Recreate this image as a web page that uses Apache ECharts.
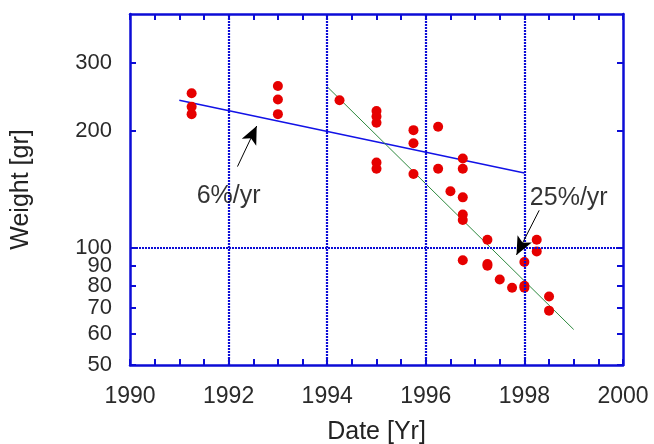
<!DOCTYPE html>
<html>
<head>
<meta charset="utf-8">
<style>
  * { margin: 0; padding: 0; }
  body { background: #ffffff; }
  #chart { width: 654px; height: 444px; }
</style>
</head>
<body>
<div id="chart"></div>
<script src="https://cdn.jsdelivr.net/npm/echarts@6/dist/echarts.min.js"></script>
<script>
// measured weights by date
const years = [
  1991.25, 1991.25, 1991.25,
  1993.0, 1993.0, 1993.0,
  1994.25,
  1995.0, 1995.0, 1995.0, 1995.0, 1995.0,
  1995.75, 1995.75, 1995.75,
  1996.25, 1996.25,
  1996.5,
  1996.75, 1996.75, 1996.75, 1996.75, 1996.75, 1996.75,
  1997.25, 1997.25, 1997.25,
  1997.5,
  1997.75,
  1998.0, 1998.0, 1998.0,
  1998.25, 1998.25,
  1998.5, 1998.5
];
const weights = [
  250, 231, 221,
  261, 241, 221,
  240,
  225, 218, 210, 166, 160,
  201, 186, 155,
  205, 160,
  140,
  170, 160, 135, 122, 118, 93,
  105, 91, 90,
  83,
  79,
  92, 80, 79,
  105, 98,
  75, 69
];

// fitted trends (end points)
const slowFit = [[1991, 240], [1998, 156]];
const fastFit = [[1994, 260], [1999, 61.7]];

// annotations: text position and arrow tail -> head
const notes = [
  { text: '6%/yr', at: [1992.0, 136], tail: [1992.18, 162], head: [1992.57, 206] },
  { text: '25%/yr', at: [1998.9, 134.5], tail: [1998.3, 125], head: [1997.84, 96] }
];

const yTicks = [50, 60, 70, 80, 90, 100, 200, 300];
const xGrid = [1992, 1994, 1996, 1998];
const yGrid = [100];

const BLUE = '#0c0cd6';
const FONT = '"Liberation Sans", Arial, sans-serif';

const chart = echarts.init(document.getElementById('chart'));

const xBase = {
  type: 'value', min: 1990, max: 2000, interval: 0.5,
  axisLine: { show: true, onZero: false, lineStyle: { color: BLUE, width: 2.5 } },
  axisTick: { show: true, inside: true, length: 6, lineStyle: { color: BLUE, width: 2 } },
  splitLine: { show: false }
};
const yBase = {
  type: 'log', logBase: 10, min: 50, max: 400,
  axisLine: { show: true, onZero: false, lineStyle: { color: BLUE, width: 2.5 } },
  axisTick: { show: true, inside: true, length: 6, customValues: yTicks, lineStyle: { color: BLUE, width: 2 } },
  splitLine: { show: false }
};

const gridStyle = { color: BLUE, width: 2.2, type: [2, 1] };

const option = {
  backgroundColor: '#ffffff',
  animation: false,
  grid: { left: 130, right: 31, top: 14, bottom: 79, containLabel: false, outerBoundsMode: 'none' },
  xAxis: [
    Object.assign({}, xBase, {
      position: 'bottom',
      name: 'Date [Yr]', nameLocation: 'middle', nameGap: 55,
      nameTextStyle: { color: '#222', fontSize: 25, fontFamily: FONT },
      axisLabel: {
        color: '#2a2a2a', fontSize: 23, fontFamily: FONT, margin: 20,
        formatter: v => (Math.abs(v % 2) < 1e-9 ? String(v) : '')
      }
    }),
    Object.assign({}, xBase, {
      position: 'top',
      axisLabel: { show: false }
    })
  ],
  yAxis: [
    Object.assign({}, yBase, {
      position: 'left',
      name: 'Weight [gr]', nameLocation: 'middle', nameGap: 96,
      nameTextStyle: { color: '#222', fontSize: 25, fontFamily: FONT },
      axisLabel: { color: '#2a2a2a', fontSize: 22, fontFamily: FONT, margin: 18, customValues: yTicks }
    }),
    Object.assign({}, yBase, {
      position: 'right',
      axisLabel: { show: false }
    })
  ],
  series: [
    {
      name: 'gridlines',
      type: 'line',
      data: [],
      silent: true,
      markLine: {
        silent: true,
        symbol: 'none',
        label: { show: false },
        lineStyle: gridStyle,
        data: xGrid.map(v => ({ xAxis: v })).concat(yGrid.map(v => ({ yAxis: v })))
      }
    },
    {
      name: 'slow',
      type: 'line',
      data: slowFit,
      showSymbol: false,
      lineStyle: { color: '#1212e6', width: 1.5 },
      z: 3
    },
    {
      name: 'fast',
      type: 'line',
      data: fastFit,
      showSymbol: false,
      lineStyle: { color: '#2f8a3f', width: 1 },
      z: 3
    },
    {
      name: 'weight',
      type: 'scatter',
      data: years.map((x, i) => [x, weights[i]]),
      symbolSize: 10,
      itemStyle: { color: '#e60000', opacity: 1 },
      z: 4
    },
    {
      name: 'notes',
      type: 'scatter',
      data: notes.map(n => ({ value: n.at, name: n.text })),
      symbolSize: 0,
      label: {
        show: true,
        position: 'inside',
        formatter: p => p.name,
        color: '#000',
        fontSize: 25,
        fontFamily: FONT
      },
      markLine: {
        silent: true,
        symbol: ['none', 'arrow'],
        symbolSize: [12, 18],
        label: { show: false },
        lineStyle: { color: '#000', width: 1, type: 'solid' },
        data: notes.map(n => [{ coord: n.tail }, { coord: n.head }])
      },
      z: 5
    }
  ]
};

chart.setOption(option);
</script>
</body>
</html>
